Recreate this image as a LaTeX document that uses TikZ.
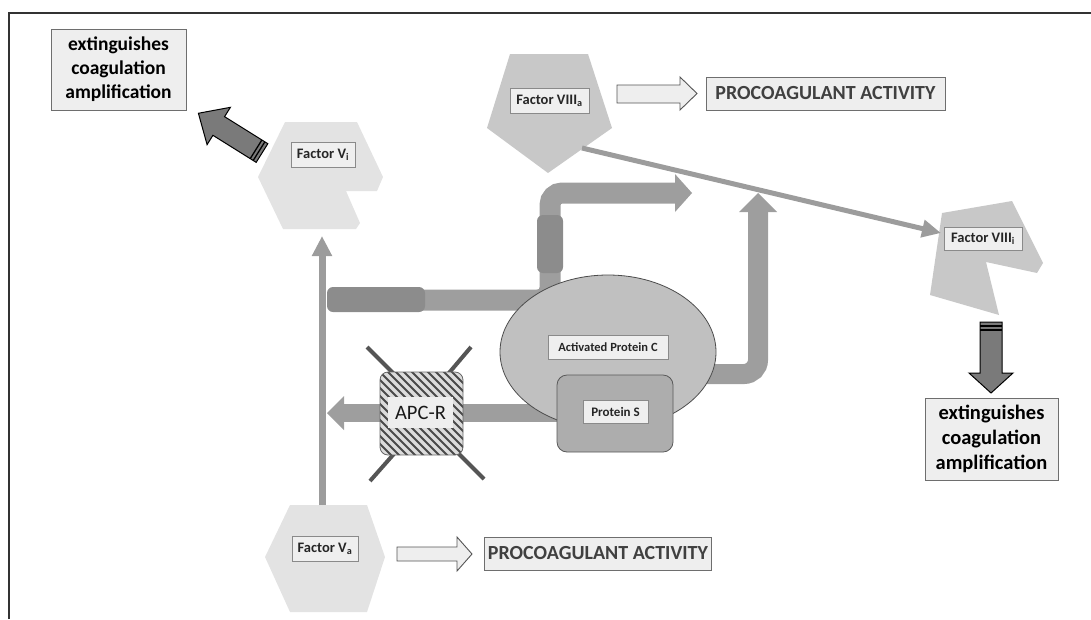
\documentclass[tikz,border=0pt]{standalone}
\usepackage{fontspec}
\setmainfont{Carlito}
\usetikzlibrary{arrows.meta}
\definecolor{framecol}{HTML}{333333}
\definecolor{lblfill}{HTML}{EFEFEF}
\definecolor{lblborder}{HTML}{8A8A8A}
\definecolor{boxfill}{HTML}{EEEEEE}
\definecolor{boxborder}{HTML}{6E6E6E}
\definecolor{fvfill}{HTML}{E3E3E3}
\definecolor{fviiifill}{HTML}{C8C8C8}
\definecolor{apcfill}{HTML}{C0C0C0}
\definecolor{psfill}{HTML}{ADADAD}
\definecolor{bandcol}{HTML}{9E9E9E}
\definecolor{banddark}{HTML}{8C8C8C}
\definecolor{thincol}{HTML}{9C9C9C}
\definecolor{darkarrow}{HTML}{7A7A7A}
\definecolor{hatchbg}{HTML}{DCDCDC}
\definecolor{hatchln}{HTML}{4A4A4A}
\definecolor{legcol}{HTML}{555555}
\definecolor{procotext}{HTML}{404040}
\begin{document}
\begin{tikzpicture}[x=1pt,y=-1pt,
  lbl/.style={draw=lblborder, fill=lblfill, line width=0.8pt, inner sep=0pt,
    minimum height=24pt, font=\fontsize{14.5}{16}\selectfont\bfseries, text=black!85},
  bigbox/.style={draw=boxborder, fill=boxfill, line width=1pt, inner sep=0pt, align=center},
  procobox/.style={draw=boxborder, fill=boxfill, line width=1pt, inner sep=0pt,
    minimum height=33pt, text=procotext, font=\fontsize{20}{22}\selectfont\bfseries},
  hollow/.style={fill=boxfill, draw=legcol, line width=0.9pt, line join=miter},
  blockdark/.style={fill=darkarrow, draw=black, line width=1pt, line join=miter},
  band/.style={draw=bandcol, line width=21pt, line cap=butt, rounded corners=12pt},
  thinarrow/.style={draw=thincol, fill=thincol},
  leg/.style={draw=legcol, line width=4pt, line cap=butt},
  plainlbl/.style={fill=lblfill, draw=lblborder, line width=0.6pt, inner sep=0pt, text=black!85}
]
\useasboundingbox (0,0) rectangle (1091,619);

% frame
\draw[framecol, line width=1.5pt] (9,619) -- (9,13) -- (1091,13);

% ---------- shapes ----------
% Factor Vi (notched hexagon)
\fill[fvfill] (285,122) -- (357,122) -- (383,177) -- (377,191) -- (346,191) -- (360,223)
  -- (356,229) -- (283,229) -- (258,177) -- cycle;
% Factor Va (hexagon)
\fill[fvfill] (290,505) -- (367,505) -- (385,557) -- (367,612) -- (290,612) -- (265,557) -- cycle;
% Factor VIIIa (pentagon)
\fill[fviiifill] (510,54) -- (588,54) -- (612,128) -- (548,173) -- (487,128) -- cycle;
% Factor VIIIi (notched pentagon)
\fill[fviiifill] (942,213) -- (1012,201) -- (1043,263) -- (1037,273) -- (986,262)
  -- (999,315) -- (930,295) -- cycle;

% named anchor points
\coordinate (vaTop) at (322,505);
\coordinate (viBot) at (322,236);
\coordinate (viiiaOut) at (582,148);
\coordinate (viiiiIn) at (941,233);
\coordinate (b1s) at (334,300);
\coordinate (b1c1) at (550,300);
\coordinate (b1c2) at (550,193);
\coordinate (b1e) at (676,193);
\coordinate (b2s) at (690,374);
\coordinate (b2c) at (758,374);
\coordinate (b2e) at (758,211);
\coordinate (apcS) at (565,413);
\coordinate (apcE) at (343,413);

% ---------- thick bands ----------
\draw[band] (b1s) -- (b1c1) -- (b1c2) -- (b1e);
\fill[bandcol] (675,174) -- (692,193) -- (675,212) -- cycle;
\fill[banddark, rounded corners=6pt] (327,287) rectangle (425,312);
\fill[banddark, rounded corners=6pt] (537,215) rectangle (563,273);

\draw[band, line width=20pt, rounded corners=14pt] (b2s) -- (b2c) -- (b2e);
\fill[bandcol] (739,212) -- (758,193) -- (777,212) -- cycle;

\draw[draw=bandcol, line width=18pt] (apcS) -- (apcE);
\fill[bandcol] (344,396) -- (327,413) -- (344,430) -- cycle;

% ---------- thin arrows ----------
\draw[thinarrow, line width=7pt, -{Triangle[length=20pt,width=19pt]}] (vaTop) -- (viBot);
\draw[thinarrow, line width=5pt, -{Triangle[length=19pt,width=17pt]}] (viiiaOut) -- (viiiiIn);

% ---------- APC ellipse and protein S ----------
\draw[fill=apcfill, draw=black!70, line width=0.8pt] (608,352) ellipse [x radius=108, y radius=77];
\draw[fill=psfill, draw=black!65, line width=0.8pt, rounded corners=10pt] (557,375) rectangle (673,452);
\node[plainlbl, minimum width=120pt, minimum height=24pt, font=\fontsize{12.5}{14}\selectfont\bfseries] (apc) at (608,347) {Activated Protein C};
\node[plainlbl, minimum width=65pt, minimum height=23pt, font=\fontsize{13}{15}\selectfont\bfseries] (ps) at (615.5,411.5) {Protein S};

% ---------- APC-R ----------
\draw[leg] (367,347) -- (400,380);
\draw[leg] (471,347) -- (443,380);
\draw[leg] (370,481) -- (400,447);
\draw[leg] (484,479) -- (450,445);
\begin{scope}
  \clip[rounded corners=8pt] (380,372) rectangle (463,455);
  \fill[hatchbg] (380,372) rectangle (463,455);
  \foreach \k in {-112,-104,...,112}
    \draw[hatchln, line width=2pt] (421.5+\k-60,413.5-60) -- (421.5+\k+60,413.5+60);
\end{scope}
\draw[draw=black!60, line width=0.8pt, rounded corners=8pt] (380,372) rectangle (463,455);
\node[fill=boxfill, inner sep=0pt, minimum width=65pt, minimum height=31pt,
  font=\fontsize{20.5}{23}\selectfont, text=black!90] (apcr) at (420.5,412.5) {APC-R};

% ---------- labels ----------
\node[lbl, minimum width=64pt, minimum height=25pt] (fvi) at (323,154.5) {Factor V\textsubscript{i}};
\node[lbl, minimum width=66pt, minimum height=25pt] (fva) at (325,548.5) {Factor V\textsubscript{a}};
\node[lbl, minimum width=79pt, minimum height=25pt] (fviiia) at (549.5,100.5) {Factor VIII\textsubscript{a}};
\node[lbl, minimum width=78pt, minimum height=23pt] (fviiii) at (983,238.5) {Factor VIII\textsubscript{i}};

% ---------- text boxes ----------
\node[bigbox, minimum width=135pt, minimum height=81pt,
  font=\fontsize{19.5}{24}\selectfont\bfseries] (ext1) at (118.5,69.5)
  {extinguishes\\coagulation\\amplification};
\node[bigbox, minimum width=133pt, minimum height=82pt,
  font=\fontsize{20.5}{25}\selectfont\bfseries] (ext2) at (991.5,439)
  {extinguishes\\coagulation\\amplification};
\node[procobox, minimum width=239pt] (pro1) at (825.5,93.5) {PROCOAGULANT ACTIVITY};
\node[procobox, minimum width=227pt] (pro2) at (598,553.5) {PROCOAGULANT ACTIVITY};

% ---------- hollow arrows ----------
\draw[hollow] (617,85) -- (680,85) -- (680,77) -- (697,93.5) -- (680,110) -- (680,103) -- (617,103) -- cycle;
\draw[hollow] (397,547) -- (457,547) -- (457,537) -- (472,554) -- (457,571) -- (457,561) -- (397,561) -- cycle;

% ---------- dark block arrows ----------
\begin{scope}[shift={(262,153)}, rotate=148]
  \draw[blockdark] (0,-11) -- (51,-11) -- (51,-22) -- (75,0) -- (51,22) -- (51,11) -- (0,11) -- cycle;
  \draw[black, line width=1.3pt] (3.5,-11) -- (3.5,11);
  \draw[black, line width=1.3pt] (7,-11) -- (7,11);
\end{scope}
\draw[blockdark] (980,322) -- (1002,322) -- (1002,373) -- (1013,373) -- (991,393) -- (969,373) -- (980,373) -- cycle;
\draw[black, line width=1.3pt] (980,326) -- (1002,326);
\draw[black, line width=1.3pt] (980,330) -- (1002,330);
\end{tikzpicture}
\end{document}
